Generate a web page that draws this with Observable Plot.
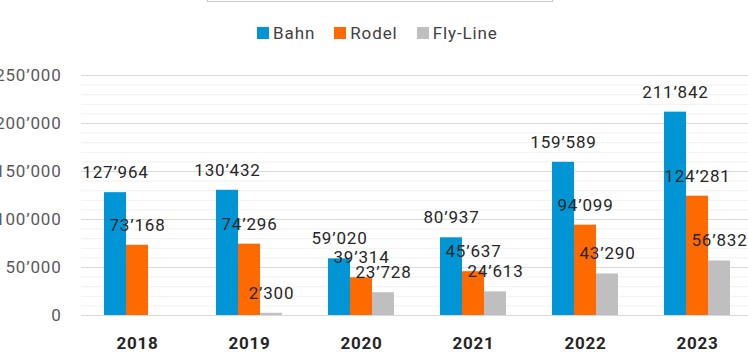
<!DOCTYPE html>
<html><head><meta charset="utf-8">
<script src="https://cdn.jsdelivr.net/npm/d3@7"></script>
<script src="https://cdn.jsdelivr.net/npm/@observablehq/plot@0.6"></script>
<style>
body{margin:0;overflow:hidden;background:#fff;font-family:Roboto,sans-serif;}
#wrap{position:relative;width:748px;height:352px;overflow:hidden;}
#titlebox{position:absolute;left:207px;top:-20px;width:344px;height:20px;border:1px solid #c6c6c6;}
#legend{position:absolute;left:257px;top:24px;display:flex;align-items:center;font-size:17px;color:#404040;letter-spacing:0.9px;line-height:18px}
.item{display:flex;align-items:center;margin-right:19px}
.sw{width:12px;height:12px;margin-right:4px}
#chart{position:absolute;left:0;top:55px}
#chart text{letter-spacing:0.8px}
</style>
</head><body>
<div id="wrap">
  <div id="titlebox"></div>
  <div id="legend"></div>
  <div id="chart"></div>
</div>
<script>
const years = ["2018", "2019", "2020", "2021", "2022", "2023"];
const series = ["Bahn", "Rodel", "Fly-Line"];
const bahn = [127964, 130432, 59020, 80937, 159589, 211842];
const rodel = [73168, 74296, 39314, 45637, 94099, 124281];
const flyLine = [null, 2300, 23728, 24613, 43290, 56832];
const colors = ["#0096d6", "#ff6a00", "#bfbfbf"];
const yTicks = [0, 50000, 100000, 150000, 200000, 250000];
const minorStep = 10000;

const values = {"Bahn": bahn, "Rodel": rodel, "Fly-Line": flyLine};
const data = years.flatMap((y, i) => series.map(s => ({year: y, series: s, value: values[s][i]})))
  .filter(d => d.value != null);
const fmt = d3.formatLocale({thousands: "’", grouping: [3], decimal: ".", currency: ["", ""]}).format(",d");
const minor = d3.range(0, 250001, minorStep).filter(v => !yTicks.includes(v));

// legend
const legend = document.getElementById("legend");
series.forEach((s, i) => {
  const it = document.createElement("div");
  it.className = "item";
  it.innerHTML = `<span class="sw" style="background:${colors[i]}"></span><span>${s}</span>`;
  legend.appendChild(it);
});

const chart = Plot.plot({
  width: 753,
  height: 297,
  marginLeft: 81,
  marginRight: 0,
  marginTop: 20,
  marginBottom: 37,
  style: {maxWidth: "none", overflow: "visible", fontFamily: "Roboto, sans-serif", background: "transparent"},
  fx: {domain: years, padding: 0, label: null},
  x: {domain: series, paddingInner: 0, paddingOuter: 1, axis: null},
  y: {domain: [0, 250000], label: null},
  color: {domain: series, range: colors},
  marks: [
    Plot.ruleY(minor, {stroke: "#f0f0f0"}),
    Plot.ruleY(yTicks, {stroke: "#d9d9d9"}),
    Plot.barY(data, {fx: "year", x: "series", y: "value", fill: "series"}),
    Plot.text(data, {fx: "year", x: "series", y: "value", text: d => fmt(d.value), dy: -20, fontSize: 17, fill: "#262626"}),
    Plot.axisY({ticks: yTicks, tickFormat: fmt, tickSize: 0, tickPadding: 20, fontSize: 17, label: null, color: "#595959"}),
    Plot.axisFx({anchor: "bottom", tickSize: 0, tickPadding: 21, fontSize: 17, fontWeight: "bold", label: null, color: "#262626"})
  ]
});
document.getElementById("chart").appendChild(chart);
</script>
</body></html>
